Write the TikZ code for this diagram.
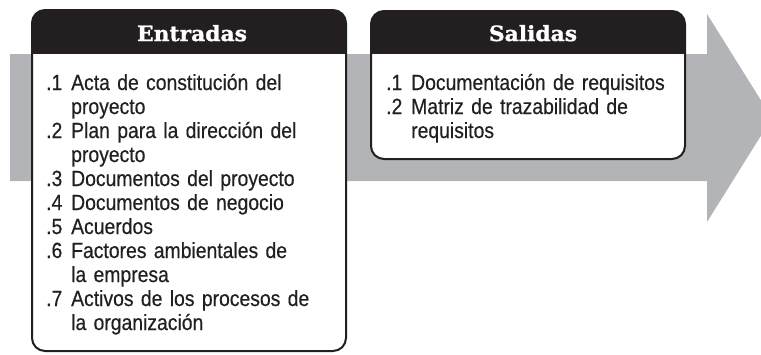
\documentclass[tikz,border=0pt]{standalone}
\usepackage{fontspec}
\newfontfamily\bodyfont[FakeStretch=0.88,FakeBold=0.4]{Liberation Sans}
\newfontfamily\titlefont[FakeBold=1.2,FakeStretch=1.04]{DejaVu Serif}
\definecolor{arrowgrey}{RGB}{179,180,183}
\definecolor{ink}{RGB}{35,31,32}
\newcommand{\itm}[1]{\makebox[25pt][l]{#1}}
\newcommand{\cnt}{\hspace*{25pt}}
\newcommand{\tightlines}{\lineskiplimit=-20pt\relax\lineskip=0pt\relax}
\begin{document}
\begin{tikzpicture}[x=1pt,y=-1pt,
  boxline/.style={draw=ink,line width=2pt,rounded corners=13pt},
  hdr/.style={fill=ink},
  boxtitle/.style={text=white,inner sep=0pt,anchor=base,font=\titlefont\bfseries\fontsize{21}{24}\selectfont},
  itemlist/.style={text=ink,inner sep=0pt,anchor=base west,text width=300pt,align=left,
    font=\bodyfont\fontsize{22}{24}\selectfont}]
\useasboundingbox (0,0) rectangle (761,354);
% grey process arrow
\begin{scope}
  \clip (0,0) rectangle (761,354);
  \fill[arrowgrey] (10,54) -- (707,54) -- (707,14) -- (772,118) -- (707,222) -- (707,181) -- (10,181) -- cycle;
\end{scope}
% Entradas box
\fill[white,rounded corners=13pt] (32,10) rectangle (346,351);
\begin{scope}
  \clip[rounded corners=13pt] (32,10) rectangle (346,351);
  \fill[hdr] (32,10) rectangle (346,54);
\end{scope}
\draw[boxline] (32,10) rectangle (346,351);
% Salidas box
\fill[white,rounded corners=13pt] (371,11) rectangle (685,159);
\begin{scope}
  \clip[rounded corners=13pt] (371,11) rectangle (685,159);
  \fill[hdr] (371,11) rectangle (685,54);
\end{scope}
\draw[boxline] (371,11) rectangle (685,159);
% titles
\node[boxtitle] (etitle) at (192,41) {Entradas};
\node[boxtitle] (stitle) at (533,41) {Salidas};
% lists
\node[itemlist] (elist) at (46,90) {\tightlines
\itm{.1}Acta de constitución del\\
\cnt proyecto\\
\itm{.2}Plan para la dirección del\\
\cnt proyecto\\
\itm{.3}Documentos del proyecto\\
\itm{.4}Documentos de negocio\\
\itm{.5}Acuerdos\\
\itm{.6}Factores ambientales de\\
\cnt la empresa\\
\itm{.7}Activos de los procesos de\\
\cnt la organización};
\node[itemlist] (slist) at (386,90) {\tightlines
\itm{.1}Documentación de requisitos\\
\itm{.2}Matriz de trazabilidad de\\
\cnt requisitos};
\end{tikzpicture}
\end{document}
